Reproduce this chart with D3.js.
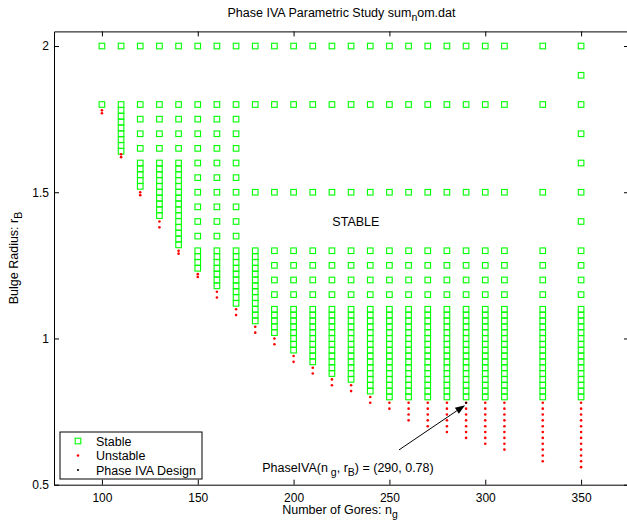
<!DOCTYPE html>
<html>
<head>
<meta charset="utf-8">
<script src="https://cdn.jsdelivr.net/npm/d3@7"></script>
<style>
  body { margin: 0; background: #fff; }
  svg { display: block; font-family: "Liberation Sans", Arial, Helvetica, sans-serif; }
  .axis text { font-size: 12px; fill: #000; font-family: "Liberation Sans", Arial, sans-serif; }
  .axis path, .axis line { stroke: #000; stroke-width: 1; }
  .lbl { font-size: 12.5px; fill: #000; }
</style>
</head>
<body>
<script>

// number of gores in the study
var gores = [100, 110, 120, 130, 140, 150, 160, 170, 180, 190, 200, 210,
	220, 230, 240, 250, 260, 270, 280, 290, 300, 310, 330, 350];

// bulge radii found stable, one list per number of gores
var stableRadii = [
	[2.0, 1.80],
	[2.0, 1.80, 1.78, 1.76, 1.74, 1.72, 1.70, 1.68, 1.66, 1.64],
	[2.0, 1.80, 1.75, 1.70, 1.65, 1.60, 1.58, 1.56, 1.54, 1.52],
	[2.0, 1.80, 1.75, 1.70, 1.65, 1.60, 1.58, 1.56, 1.54, 1.52, 1.50, 1.48, 1.46, 1.44, 1.42],
	[2.0, 1.80, 1.75, 1.70, 1.65, 1.60, 1.58, 1.56, 1.54, 1.52, 1.50, 1.48, 1.46, 1.44, 1.42, 1.40, 1.38, 1.36, 1.34, 1.32],
	[2.0, 1.80, 1.75, 1.70, 1.65, 1.60, 1.55, 1.50, 1.45, 1.40, 1.35, 1.30, 1.28, 1.26, 1.24],
	[2.0, 1.80, 1.75, 1.70, 1.65, 1.60, 1.55, 1.50, 1.45, 1.40, 1.35, 1.30, 1.28, 1.26, 1.24, 1.22, 1.20, 1.18],
	[2.0, 1.80, 1.75, 1.70, 1.65, 1.60, 1.55, 1.50, 1.45, 1.40, 1.35, 1.30, 1.28, 1.26, 1.24, 1.22, 1.20, 1.18, 1.16, 1.14, 1.12],
	[2.0, 1.80, 1.50, 1.30, 1.28, 1.26, 1.24, 1.22, 1.20, 1.18, 1.16, 1.14, 1.12, 1.10, 1.08, 1.06],
	[2.0, 1.80, 1.50, 1.30, 1.25, 1.20, 1.15, 1.10, 1.08, 1.06, 1.04, 1.02],
	[2.0, 1.80, 1.50, 1.30, 1.25, 1.20, 1.15, 1.10, 1.08, 1.06, 1.04, 1.02, 1.00, 0.98, 0.96],
	[2.0, 1.80, 1.50, 1.30, 1.25, 1.20, 1.15, 1.10, 1.08, 1.06, 1.04, 1.02, 1.00, 0.98, 0.96, 0.94, 0.92],
	[2.0, 1.80, 1.50, 1.30, 1.25, 1.20, 1.15, 1.10, 1.08, 1.06, 1.04, 1.02, 1.00, 0.98, 0.96, 0.94, 0.92, 0.90, 0.88],
	[2.0, 1.80, 1.50, 1.30, 1.25, 1.20, 1.15, 1.10, 1.08, 1.06, 1.04, 1.02, 1.00, 0.98, 0.96, 0.94, 0.92, 0.90, 0.88, 0.86],
	[2.0, 1.80, 1.50, 1.30, 1.25, 1.20, 1.15, 1.10, 1.08, 1.06, 1.04, 1.02, 1.00, 0.98, 0.96, 0.94, 0.92, 0.90, 0.88, 0.86, 0.84, 0.82],
	[2.0, 1.80, 1.50, 1.30, 1.25, 1.20, 1.15, 1.10, 1.08, 1.06, 1.04, 1.02, 1.00, 0.98, 0.96, 0.94, 0.92, 0.90, 0.88, 0.86, 0.84, 0.82, 0.80],
	[2.0, 1.80, 1.50, 1.30, 1.25, 1.20, 1.15, 1.10, 1.08, 1.06, 1.04, 1.02, 1.00, 0.98, 0.96, 0.94, 0.92, 0.90, 0.88, 0.86, 0.84, 0.82, 0.80],
	[2.0, 1.80, 1.50, 1.30, 1.25, 1.20, 1.15, 1.10, 1.08, 1.06, 1.04, 1.02, 1.00, 0.98, 0.96, 0.94, 0.92, 0.90, 0.88, 0.86, 0.84, 0.82, 0.80],
	[2.0, 1.80, 1.50, 1.30, 1.25, 1.20, 1.15, 1.10, 1.08, 1.06, 1.04, 1.02, 1.00, 0.98, 0.96, 0.94, 0.92, 0.90, 0.88, 0.86, 0.84, 0.82, 0.80],
	[2.0, 1.80, 1.50, 1.30, 1.25, 1.20, 1.15, 1.10, 1.08, 1.06, 1.04, 1.02, 1.00, 0.98, 0.96, 0.94, 0.92, 0.90, 0.88, 0.86, 0.84, 0.82, 0.80],
	[2.0, 1.80, 1.50, 1.30, 1.25, 1.20, 1.15, 1.10, 1.08, 1.06, 1.04, 1.02, 1.00, 0.98, 0.96, 0.94, 0.92, 0.90, 0.88, 0.86, 0.84, 0.82, 0.80],
	[2.0, 1.80, 1.50, 1.30, 1.25, 1.20, 1.15, 1.10, 1.08, 1.06, 1.04, 1.02, 1.00, 0.98, 0.96, 0.94, 0.92, 0.90, 0.88, 0.86, 0.84, 0.82, 0.80],
	[2.0, 1.80, 1.50, 1.30, 1.25, 1.20, 1.15, 1.10, 1.08, 1.06, 1.04, 1.02, 1.00, 0.98, 0.96, 0.94, 0.92, 0.90, 0.88, 0.86, 0.84, 0.82, 0.80],
	[2.0, 1.90, 1.80, 1.70, 1.60, 1.50, 1.40, 1.30, 1.25, 1.20, 1.15, 1.10, 1.08, 1.06, 1.04, 1.02, 1.00, 0.98, 0.96, 0.94, 0.92, 0.90, 0.88, 0.86, 0.84, 0.82, 0.80]
];

// bulge radii found unstable
var unstableRadii = [
	[1.78, 1.77],
	[1.63, 1.62],
	[1.50, 1.49],
	[1.40, 1.38],
	[1.30, 1.29],
	[1.22, 1.21],
	[1.16, 1.14],
	[1.10, 1.08],
	[1.04, 1.02],
	[1.00, 0.98],
	[0.94, 0.92],
	[0.90, 0.88],
	[0.86, 0.84],
	[0.84, 0.82],
	[0.80, 0.78],
	[0.78, 0.76],
	[0.78, 0.76, 0.74, 0.72],
	[0.78, 0.76, 0.74, 0.72, 0.70],
	[0.78, 0.76, 0.74, 0.72, 0.70, 0.68],
	[0.78, 0.76, 0.74, 0.72, 0.70, 0.68, 0.66],
	[0.78, 0.76, 0.74, 0.72, 0.70, 0.68, 0.66, 0.64],
	[0.78, 0.76, 0.74, 0.72, 0.70, 0.68, 0.66, 0.64, 0.62],
	[0.78, 0.76, 0.74, 0.72, 0.70, 0.68, 0.66, 0.64, 0.62, 0.60, 0.58],
	[0.78, 0.76, 0.74, 0.72, 0.70, 0.68, 0.66, 0.64, 0.62, 0.60, 0.58, 0.56]
];

var designPoint = [290, 0.78];
var xTicks = [100, 150, 200, 250, 300, 350];
var yTicks = [0.5, 1, 1.5, 2];

var width = 627, height = 527;

var svg = d3.select('body').append('svg')
	.attr('width', width)
	.attr('height', height);

svg.append('rect').attr('width', width).attr('height', height).attr('fill', '#fff');

var x = d3.scaleLinear().domain([75, 375]).range([54, 629]);
var y = d3.scaleLinear().domain([0.5, 2.05]).range([484.7, 31.4]);

// flatten to points
var stablePts = [], unstablePts = [];
gores.forEach(function (g, i) {
	stableRadii[i].forEach(function (r) { stablePts.push([g, r]); });
	unstableRadii[i].forEach(function (r) { unstablePts.push([g, r]); });
});

// stable squares
var sq = 5.6;
svg.append('g').selectAll('rect').data(stablePts).enter().append('rect')
	.attr('x', function (d) { return x(d[0]) - sq / 2; })
	.attr('y', function (d) { return y(d[1]) - sq / 2; })
	.attr('width', sq).attr('height', sq)
	.attr('fill', 'none').attr('stroke', '#00ff00').attr('stroke-width', 1.1);

// unstable dots
svg.append('g').selectAll('circle').data(unstablePts).enter().append('circle')
	.attr('cx', function (d) { return x(d[0]); })
	.attr('cy', function (d) { return y(d[1]); })
	.attr('r', 1.3)
	.attr('fill', '#ff0000');

// design point
svg.append('circle')
	.attr('cx', x(designPoint[0])).attr('cy', y(designPoint[1]))
	.attr('r', 1.1).attr('fill', '#000');

// axes, ticks pointing inward like matlab
svg.append('g').attr('class', 'axis')
	.attr('transform', 'translate(0,' + y(0.5) + ')')
	.call(d3.axisBottom(x).tickValues(xTicks).tickSizeInner(-5).tickSizeOuter(0).tickPadding(8.5));
svg.append('g').attr('class', 'axis')
	.attr('transform', 'translate(0,' + y(2.05) + ')')
	.call(d3.axisTop(x).tickValues(xTicks).tickSizeInner(-5).tickSizeOuter(0).tickFormat(''));
svg.append('g').attr('class', 'axis')
	.attr('transform', 'translate(' + x(75) + ',0)')
	.call(d3.axisLeft(y).tickValues(yTicks).tickSizeInner(-5).tickSizeOuter(0).tickPadding(5)
		.tickFormat(function (d) { return d; }));
svg.append('g').attr('class', 'axis')
	.attr('transform', 'translate(' + x(375) + ',0)')
	.call(d3.axisRight(y).tickValues(yTicks).tickSizeInner(-5).tickSizeOuter(0).tickFormat(''));

// text with a subscript part
function subText(sel, parts) {
	parts.forEach(function (p) {
		var t = sel.append('tspan').text(p[0]);
		if (p[1]) t.attr('dy', 4).attr('font-size', '10.5px');
		else if (p[2]) t.attr('dy', -4);
	});
}

// title
subText(svg.append('text').attr('class', 'lbl')
	.attr('x', 341.5).attr('y', 16.5).attr('text-anchor', 'middle'),
	[['Phase IVA Parametric Study sum'], ['n', true], ['om.dat', false, true]]);

// axis labels
subText(svg.append('text').attr('class', 'lbl')
	.attr('x', 340).attr('y', 514).attr('text-anchor', 'middle'),
	[['Number of Gores: n'], ['g', true]]);
subText(svg.append('text').attr('class', 'lbl')
	.attr('transform', 'translate(18,258) rotate(-90)').attr('text-anchor', 'middle'),
	[['Bulge Radius: r'], ['B', true]]);

// region label
svg.append('text').attr('class', 'lbl')
	.attr('x', x(232.5)).attr('y', y(1.385)).attr('text-anchor', 'middle')
	.text('STABLE');

// design annotation + arrow
subText(svg.append('text').attr('class', 'lbl')
	.attr('x', x(183.6)).attr('y', y(0.545)),
	[['PhaseIVA(n'], ['\u00a0g', true], [', r', false, true], ['B', true], [') = (290, 0.78)', false, true]]);

var ax0 = x(255), ay0 = y(0.619), ax1 = x(289.5), ay1 = y(0.772);
var ang = Math.atan2(ay1 - ay0, ax1 - ax0), hl = 10, hw = 3.5;
var bx = ax1 - hl * Math.cos(ang), by = ay1 - hl * Math.sin(ang);
svg.append('line')
	.attr('x1', ax0).attr('y1', ay0).attr('x2', bx).attr('y2', by)
	.attr('stroke', '#000').attr('stroke-width', 1);
svg.append('path')
	.attr('d', 'M' + ax1 + ',' + ay1 +
		'L' + (bx - hw * Math.sin(ang)) + ',' + (by + hw * Math.cos(ang)) +
		'L' + (bx + hw * Math.sin(ang)) + ',' + (by - hw * Math.cos(ang)) + 'Z')
	.attr('fill', '#000');

// legend
var lg = svg.append('g').attr('transform', 'translate(60,432)');
lg.append('rect').attr('width', 142).attr('height', 47)
	.attr('fill', '#fff').attr('stroke', '#000').attr('stroke-width', 1);
lg.append('rect').attr('x', 18 - sq / 2).attr('y', 9 - sq / 2).attr('width', sq).attr('height', sq)
	.attr('fill', 'none').attr('stroke', '#00ff00').attr('stroke-width', 1.1);
lg.append('circle').attr('cx', 18).attr('cy', 23.5).attr('r', 1.3).attr('fill', '#ff0000');
lg.append('circle').attr('cx', 18).attr('cy', 38).attr('r', 1.1).attr('fill', '#000');
['Stable', 'Unstable', 'Phase IVA Design'].forEach(function (s, i) {
	lg.append('text').attr('class', 'lbl').attr('x', 36).attr('y', 13.5 + i * 14.5).text(s);
});

</script>
</body>
</html>
